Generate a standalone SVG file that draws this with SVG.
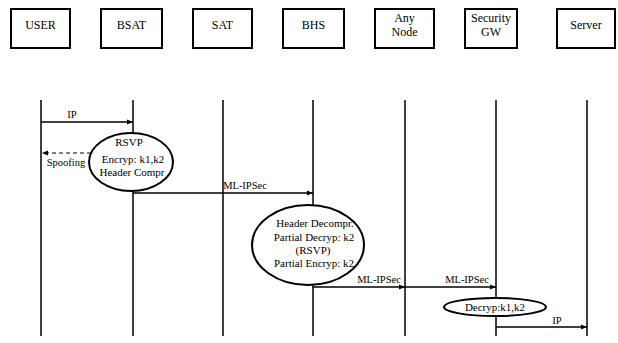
<svg xmlns="http://www.w3.org/2000/svg" width="618" height="343" viewBox="0 0 618 343" font-family="'Liberation Serif', 'DejaVu Serif', serif">
<style>
text{font-family:'Liberation Serif','DejaVu Serif',serif;fill:#000}
.box{fill:#fff;stroke:#000;stroke-width:2}
.t{font-size:12px;text-anchor:middle}
.s{font-size:11px;text-anchor:middle}
.l{font-size:10.5px;text-anchor:middle}
.life{stroke:#000;stroke-width:1.5}
.arr{stroke:#000;stroke-width:1.5;fill:none;marker-end:url(#ah)}
.dash{stroke:#000;stroke-width:1.2;fill:none;stroke-dasharray:4,3;marker-end:url(#ah)}
.ell{fill:#fff;stroke:#000;stroke-width:2}
</style>
<defs>
<marker id="ah" viewBox="0 0 10 10" refX="10" refY="5" markerWidth="6" markerHeight="6" markerUnits="userSpaceOnUse" orient="auto">
<path d="M0,1 L10,5 L0,9 Z" fill="#000"/>
</marker>
</defs>
<rect width="618" height="343" fill="#fff"/>
<g id="lifelines">
<line class="life" x1="41" y1="100" x2="41" y2="336"/>
<line class="life" x1="133" y1="100" x2="133" y2="336"/>
<line class="life" x1="223" y1="100" x2="223" y2="336"/>
<line class="life" x1="313" y1="100" x2="313" y2="336"/>
<line class="life" x1="405" y1="100" x2="405" y2="336"/>
<line class="life" x1="496" y1="100" x2="496" y2="336"/>
<line class="life" x1="587" y1="100" x2="587" y2="336"/>
</g>
<g id="node-user"><rect class="box" x="11" y="9" width="59" height="39"/><text class="t" x="40.5" y="29">USER</text></g>
<g id="node-bsat"><rect class="box" x="101" y="9" width="61" height="39"/><text class="t" x="131.5" y="29">BSAT</text></g>
<g id="node-sat"><rect class="box" x="193" y="9" width="59" height="39"/><text class="t" x="222.5" y="29">SAT</text></g>
<g id="node-bhs"><rect class="box" x="283" y="9" width="61" height="39"/><text class="t" x="313.5" y="29">BHS</text></g>
<g id="node-any"><rect class="box" x="375" y="9" width="59" height="39"/><text class="t" x="404.5" y="22">Any</text><text class="t" x="404.5" y="36">Node</text></g>
<g id="node-gw"><rect class="box" x="465" y="9" width="52" height="39"/><text class="t" x="491" y="22">Security</text><text class="t" x="491" y="36">GW</text></g>
<g id="node-server"><rect class="box" x="557" y="9" width="58" height="39"/><text class="t" x="586" y="29">Server</text></g>
<g id="connectors">
<line class="arr" x1="41" y1="122" x2="133" y2="122"/>
<line class="dash" x1="133" y1="153" x2="42" y2="153"/>
<line class="arr" x1="133" y1="193" x2="313" y2="193"/>
<line class="arr" x1="313" y1="287" x2="405" y2="287"/>
<line class="arr" x1="405" y1="287" x2="496" y2="287"/>
<line class="arr" x1="496" y1="327" x2="587" y2="327"/>
<text class="l" x="72" y="118">IP</text>
<text class="l" x="66" y="166">Spoofing</text>
<text class="l" x="245" y="189">ML-IPSec</text>
<text class="l" x="379" y="283">ML-IPSec</text>
<text class="l" x="467" y="283">ML-IPSec</text>
<text class="l" x="557" y="324">IP</text>
</g>
<g id="node-e1"><ellipse class="ell" cx="131" cy="162" rx="42" ry="29"/>
<text class="s" x="129" y="146">RSVP</text>
<text class="s" x="133" y="163">Encryp: k1,k2</text>
<text class="s" x="132" y="176">Header Compr</text></g>
<g id="node-e2"><ellipse class="ell" cx="308" cy="245" rx="56" ry="40"/>
<text class="s" x="315" y="227">Header Decompr.</text>
<text class="s" x="314" y="241">Partial Decryp: k2</text>
<text class="s" x="313" y="254">(RSVP)</text>
<text class="s" x="314" y="267">Partial Encryp: k2</text></g>
<g id="node-e3"><ellipse class="ell" cx="495" cy="307" rx="51" ry="9"/>
<text class="s" x="495" y="311">Decryp:k1,k2</text></g>
</svg>
